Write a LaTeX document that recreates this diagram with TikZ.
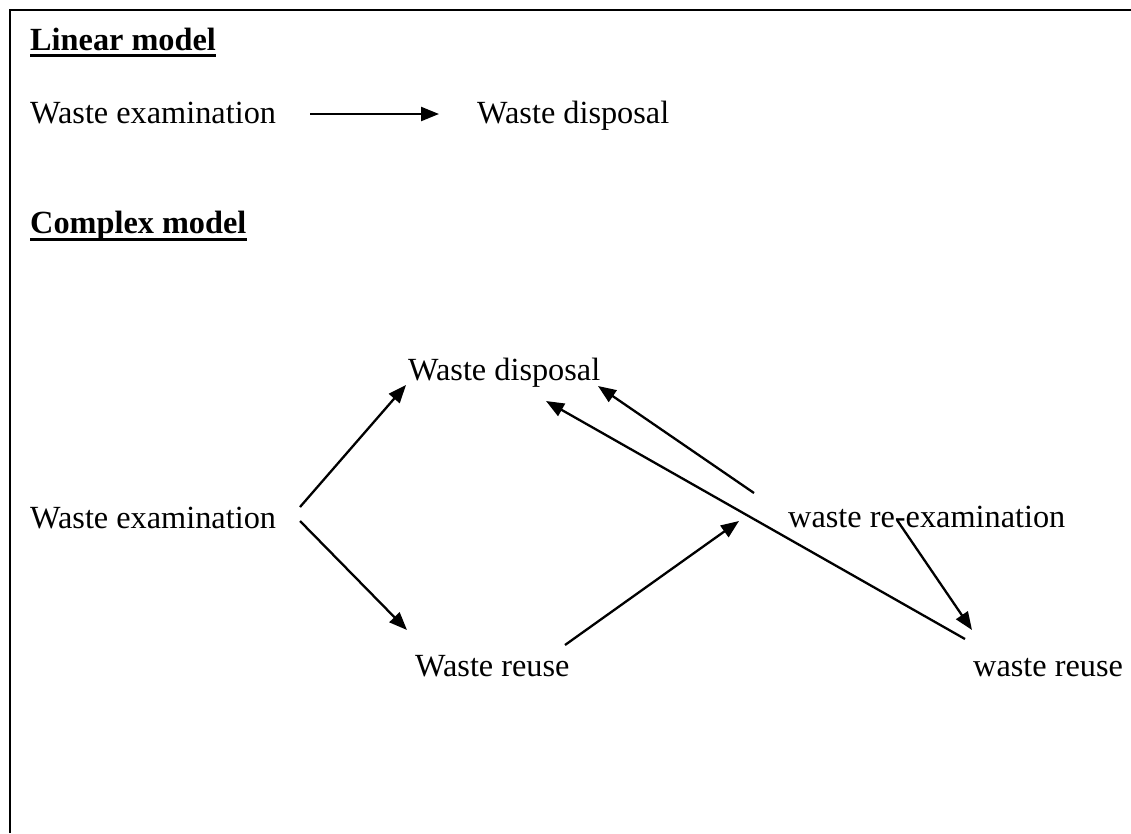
\documentclass[tikz,border=0pt]{standalone}
\usepackage{fontspec}
\setmainfont{Liberation Serif}
\usetikzlibrary{arrows.meta}
\begin{document}
\begin{tikzpicture}[
  x=1pt, y=-1pt,
  t/.style={anchor=base west, inner sep=0pt, font=\fontsize{32.3}{38}\selectfont},
  h/.style={t, font=\fontsize{32.3}{38}\selectfont\bfseries},
  e/.style={line width=2.3pt, -{Triangle[length=18pt,width=14pt]}},
  u/.style={line width=3pt},
  frame/.style={line width=2.5pt}
]
\useasboundingbox (0,0) rectangle (1131,833);
\draw[frame] (10,833) -- (10,10) -- (1131,10);

\node[h] (lin) at (30,50) {Linear model};
\node[t] (lexam) at (30,123) {Waste examination};
\node[t] (ldisp) at (477,123) {Waste disposal};
\node[h] (cpx) at (30,233) {Complex model};
\node[t] (exam) at (30,528) {Waste examination};
\node[t] (disp) at (408,380) {Waste disposal};
\node[t] (reuse) at (415,676) {Waste reuse};
\node[t] (reexam) at (788,527) {waste re-examination};
\node[t] (reuse2) at (973,676) {waste reuse};

\draw[u] ([yshift=-5pt]lin.base west) -- ([yshift=-5pt]lin.base east);
\draw[u] ([yshift=-6pt]cpx.base west) -- ([yshift=-6pt]cpx.base east);

\coordinate (l1) at (310,114);
\coordinate (l2) at (439,114);
\coordinate (a1) at (300,507);
\coordinate (a2) at (406,385);
\coordinate (b1) at (300,521);
\coordinate (b2) at (407,630);
\coordinate (c1) at (565,645);
\coordinate (c2) at (739,521);
\coordinate (d1) at (754,493);
\coordinate (d2) at (598,386);
\coordinate (f1) at (965,639);
\coordinate (f2) at (546,401);
\coordinate (g1) at (897,520);
\coordinate (g2) at (972,630);

\draw[e] (l1)--(l2);
\draw[e] (a1)--(a2);
\draw[e] (b1)--(b2);
\draw[e] (c1)--(c2);
\draw[e] (d1)--(d2);
\draw[e] (f1)--(f2);
\draw[e] (g1)--(g2);
\end{tikzpicture}
\end{document}
